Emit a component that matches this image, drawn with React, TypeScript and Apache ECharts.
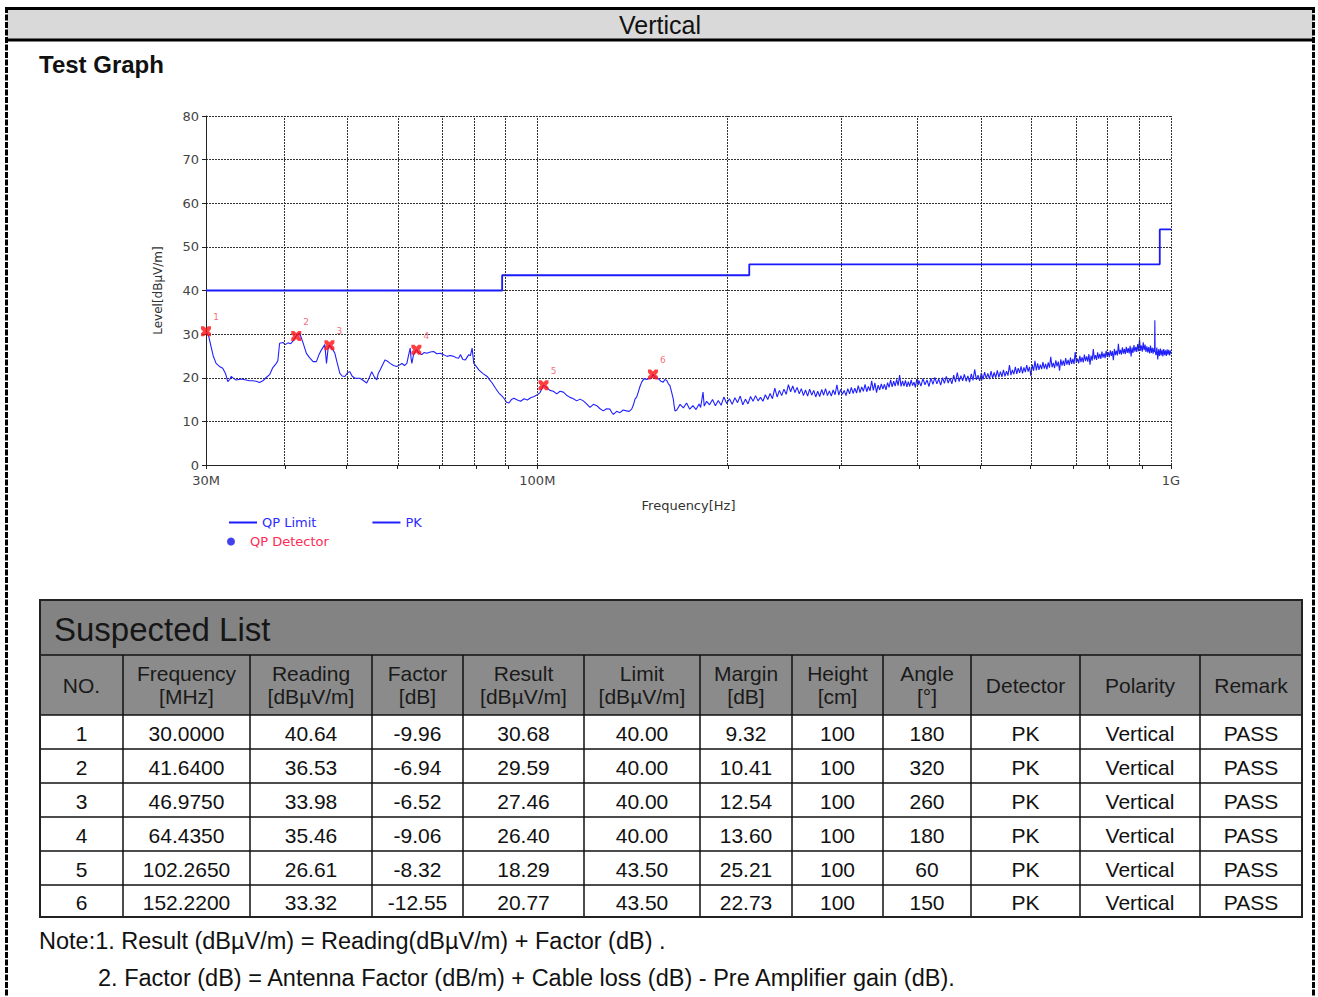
import { useEffect, useRef } from "react";
import * as echarts from "echarts";

const TABLE_FONT = '"Liberation Sans", Arial, Helvetica, sans-serif';
const CHART_FONT = '"DejaVu Sans", Verdana, sans-serif';

// QP limit (class B, 3 m): step edges in MHz and the level that holds up to the next edge
const limitFreqMHz = [30, 88, 216, 960, 1000];
const limitLevel = [40, 43.5, 46, 54, 54];

// Peak sweep, 30 – 100 MHz  [MHz, dBµV/m]
const pkBand1: [number, number][] = [
  [30.0, 30.6], [30.3, 29.5], [30.55, 27.2], [30.8, 25.0], [31.12, 23.3], [31.5, 22.6], [31.88, 22.2],
  [32.2, 21.0], [32.47, 19.1], [32.7, 19.6], [32.87, 20.3], [33.2, 19.8], [33.47, 19.5], [34.1, 19.7],
  [34.71, 19.5], [35.1, 19.3], [35.57, 19.3], [36.0, 19.2], [36.44, 18.9], [36.89, 19.3], [37.3, 20.0],
  [37.8, 20.7], [38.2, 22.2], [38.73, 23.3], [38.95, 23.9], [39.2, 27.9], [39.68, 28.1], [40.0, 27.6],
  [40.41, 28.0], [40.8, 27.8], [41.16, 28.4], [41.64, 29.6], [42.17, 30.2], [42.45, 29.0], [42.69, 28.0],
  [43.21, 25.6], [43.7, 24.6], [44.27, 23.7], [44.81, 23.7], [45.2, 25.2], [45.64, 26.4], [46.2, 27.6],
  [46.48, 23.3], [46.76, 26.8], [46.975, 27.5], [47.5, 26.6], [47.92, 25.6], [48.3, 23.5], [48.8, 21.0],
  [49.2, 20.4], [49.7, 20.3], [50.2, 21.2], [50.61, 21.4], [51.0, 20.4], [51.54, 19.9], [52.0, 19.9],
  [52.5, 19.9], [53.2, 19.3], [53.79, 18.8], [54.3, 20.0], [54.78, 21.4], [55.3, 20.2], [55.79, 19.5],
  [56.1, 21.0], [56.47, 21.8], [57.0, 23.0], [57.51, 24.1], [58.0, 23.8], [58.57, 23.3], [59.3, 22.8],
  [60.01, 22.6], [60.6, 22.9], [61.12, 23.3], [61.7, 22.8], [62.24, 23.3], [62.6, 25.0], [63.0, 26.8],
  [63.2, 24.5], [63.39, 23.3], [63.77, 25.3], [64.435, 26.4], [65.1, 25.6], [65.74, 25.3], [66.3, 25.8],
  [66.95, 25.6], [67.8, 25.9], [68.6, 26.0], [69.4, 25.5], [70.29, 25.6], [71.1, 25.3], [72.02, 24.9],
  [72.9, 25.1], [73.79, 24.9], [74.5, 24.6], [75.15, 24.5], [75.61, 25.3], [76.3, 24.2], [77.0, 24.1],
  [77.94, 25.3], [78.4, 25.0], [78.9, 26.8], [79.38, 23.3], [80.1, 22.6], [80.84, 21.8], [82.0, 21.0],
  [83.34, 20.3], [84.1, 19.5], [84.87, 18.8], [85.9, 17.6], [86.96, 16.5], [87.8, 15.9], [88.56, 15.3],
  [89.4, 14.4], [90.19, 14.2], [91.0, 15.0], [91.86, 15.3], [93.0, 14.9], [94.12, 14.6], [95.3, 15.2],
  [96.44, 14.9], [97.6, 15.4], [98.81, 15.7], [100.0, 16.1],
];

// Peak sweep, 100 – 165 MHz
const pkBand2: [number, number][] = [
  [101.0, 16.6], [101.6, 17.4], [102.265, 18.3], [103.4, 17.8], [104.7, 17.1], [106.0, 16.9], [107.3, 16.3],
  [108.6, 16.9], [109.9, 16.7], [111.2, 16.0], [112.6, 15.5], [114.0, 15.2], [115.4, 14.7], [116.8, 15.1],
  [118.2, 14.7], [119.6, 14.0], [121.1, 13.2], [122.6, 13.9], [124.1, 13.6], [125.6, 12.9], [127.1, 12.4],
  [128.6, 12.9], [130.2, 12.8], [131.0, 12.1], [131.8, 11.6], [133.4, 12.3], [135.0, 12.0], [136.6, 12.6],
  [138.3, 12.4], [139.6, 12.3], [140.9, 12.8], [141.8, 13.8], [142.6, 15.1], [143.5, 15.6], [144.3, 16.7],
  [145.2, 18.0], [146.1, 19.0], [147.4, 19.8], [148.8, 19.6], [150.1, 19.9], [151.5, 19.9], [152.22, 20.8],
  [153.6, 20.0], [155.2, 19.8], [156.6, 19.2], [158.0, 19.0], [159.0, 19.6], [160.0, 19.4], [161.0, 18.6],
  [161.9, 18.2], [162.9, 16.7], [163.9, 15.1], [164.4, 13.6], [164.9, 12.4],
];

// Peak sweep, 165 – 400 MHz
const pkBand3: [number, number][] = [
  [166, 12.6], [168, 13.9], [170, 13.1], [172, 14.2], [174, 12.8], [176, 13.6], [178, 12.7], [180, 14.0],
  [181, 13.2], [182.6, 16.7], [183.4, 13.5], [185, 14.6], [187, 13.8], [189, 15.0], [191, 13.6], [193, 14.8],
  [195, 13.7], [197, 15.6], [199, 14.1], [201, 15.2], [203, 13.9], [205, 15.4], [207, 14.3], [209, 15.8],
  [211, 13.8], [213, 15.1], [215, 14.0], [217, 15.7], [219, 14.6], [221, 15.9], [223, 14.7], [225, 15.5],
  [227, 14.6], [229, 16.1], [231, 15.0], [233, 16.4], [235, 15.2], [237, 17.6], [239, 15.6], [241, 17.1],
  [243, 15.9], [245, 17.4], [247, 16.2], [249, 18.4], [251, 16.8], [253, 18.1], [255, 16.6], [257, 17.8],
  [259, 16.3], [261, 17.5], [263, 15.9], [265, 17.2], [267, 15.8], [269, 17.4], [271, 16.0], [273, 17.1],
  [275, 15.6], [277, 16.9], [279, 15.7], [281, 17.3], [283, 16.0], [285, 17.5], [287, 15.9], [289, 17.0],
  [291, 15.8], [293, 17.2], [295, 16.1], [297, 18.4], [299, 16.0], [301, 17.3], [303, 16.2], [305, 17.1],
  [307, 15.9], [309, 17.5], [311, 16.3], [313, 17.8], [315, 16.4], [317, 17.6], [319, 16.5], [321, 18.2],
  [323, 16.6], [325, 17.9], [327, 16.9], [329, 18.5], [331, 16.8], [333, 18.0], [335, 17.0], [337, 19.3],
  [339, 17.1], [341, 18.8], [343, 16.6], [345, 18.3], [347, 17.2], [349, 18.6], [351, 17.4], [353, 18.5],
  [355, 17.2], [357, 18.9], [359, 17.8], [361, 19.5], [363, 17.9], [365, 19.2], [367, 18.1], [369, 19.6],
  [371, 18.2], [373, 20.6], [375, 18.0], [377, 19.3], [379, 18.1], [381, 19.4], [383, 17.9], [385, 19.1],
  [387, 18.0], [389, 19.5], [391, 18.2], [393, 19.0], [395, 17.8], [397, 19.7], [399, 18.3],
];

// Peak sweep, 400 MHz – 1 GHz
const pkBand4: [number, number][] = [
  [400, 19.4], [403, 18.1], [406, 19.8], [409, 18.4], [412, 19.5], [415, 18.0], [418, 19.9], [421, 18.5],
  [424, 20.1], [427, 18.6], [430, 19.7], [433, 18.3], [436, 20.0], [439, 18.7], [442, 20.3], [445, 18.8],
  [448, 19.9], [451, 18.6], [454, 20.6], [457, 19.0], [460, 21.2], [463, 19.1], [466, 20.5], [469, 19.3],
  [472, 20.8], [475, 19.2], [478, 20.4], [481, 19.0], [484, 20.9], [487, 19.4], [490, 21.9], [493, 19.5],
  [496, 20.6], [499, 19.3], [502, 21.1], [505, 19.6], [508, 21.3], [511, 19.8], [514, 21.0], [517, 19.7],
  [520, 21.5], [523, 19.9], [526, 21.2], [529, 20.0], [532, 21.7], [535, 20.1], [538, 21.4], [541, 20.2],
  [544, 21.8], [547, 20.3], [550, 21.5], [553, 20.5], [556, 22.9], [559, 20.6], [562, 21.8], [565, 20.8],
  [568, 22.5], [571, 20.9], [574, 22.2], [577, 21.1], [580, 22.6], [583, 21.0], [586, 22.4], [589, 21.3],
  [592, 22.9], [595, 21.4], [598, 22.5], [601, 20.4], [604, 23.0], [607, 21.6], [610, 23.9], [613, 21.7],
  [616, 23.3], [619, 21.8], [622, 23.0], [625, 22.0], [628, 23.6], [631, 22.1], [634, 23.2], [637, 21.9],
  [640, 23.5], [643, 22.3], [646, 24.8], [649, 22.4], [652, 23.4], [655, 22.2], [658, 24.0], [661, 22.6],
  [664, 23.7], [667, 21.6], [670, 24.2], [673, 22.8], [676, 23.9], [679, 22.7], [682, 24.5], [685, 23.0],
  [688, 24.1], [691, 22.9], [694, 24.6], [697, 23.2], [700, 24.3], [703, 23.1], [706, 25.9], [709, 23.4],
  [712, 24.4], [715, 23.3], [718, 25.0], [721, 23.6], [724, 24.7], [727, 23.5], [730, 25.3], [733, 23.8],
  [736, 24.9], [739, 23.7], [742, 25.4], [745, 23.0], [748, 25.1], [751, 23.9], [754, 26.6], [757, 24.2],
  [760, 25.2], [763, 24.1], [766, 25.8], [769, 24.4], [772, 25.5], [775, 24.3], [778, 26.0], [781, 24.6],
  [784, 25.6], [787, 24.5], [790, 26.2], [793, 24.8], [796, 25.9], [799, 24.7], [802, 26.3], [805, 25.0],
  [808, 26.1], [811, 24.0], [814, 26.6], [817, 25.2], [820, 26.2], [823, 25.1], [826, 27.8], [829, 25.4],
  [832, 26.4], [835, 25.3], [838, 27.0], [841, 25.5], [844, 26.6], [847, 25.4], [850, 27.1], [853, 25.7],
  [856, 26.8], [859, 25.6], [862, 27.3], [865, 24.9], [868, 26.9], [871, 25.7], [874, 27.5], [877, 26.0],
  [880, 27.1], [883, 25.9], [886, 27.7], [889, 26.1], [892, 28.8], [895, 26.2], [898, 27.4], [901, 26.0],
  [904, 28.1], [907, 26.3], [910, 27.6], [913, 25.9], [916, 27.2], [919, 25.8], [922, 27.0], [925, 25.6],
  [928, 27.4], [931, 25.7], [934, 26.9], [937, 25.5], [940, 26.8], [942, 25.9], [943, 33.2], [944, 26.0],
  [947, 25.2], [950, 26.9], [953, 24.2], [956, 26.5], [959, 25.0], [962, 26.7], [965, 25.1], [968, 26.4],
  [971, 24.9], [974, 26.6], [977, 25.2], [980, 26.3], [983, 25.0], [986, 26.5], [989, 25.3], [992, 26.4],
  [995, 25.1], [998, 26.2], [1000, 25.6],
];

// Suspected list
const suspectNo = [1, 2, 3, 4, 5, 6];
const suspectFreqMHz = [30.0, 41.64, 46.975, 64.435, 102.265, 152.22];
const suspectReading = [40.64, 36.53, 33.98, 35.46, 26.61, 33.32];
const suspectFactor = [-9.96, -6.94, -6.52, -9.06, -8.32, -12.55];
const suspectResult = [30.68, 29.59, 27.46, 26.4, 18.29, 20.77];
const suspectLimit = [40.0, 40.0, 40.0, 40.0, 43.5, 43.5];
const suspectMargin = [9.32, 10.41, 12.54, 13.6, 25.21, 22.73];
const suspectHeight = [100, 100, 100, 100, 100, 100];
const suspectAngle = [180, 320, 260, 180, 60, 150];
const suspectDetector = ["PK", "PK", "PK", "PK", "PK", "PK"];
const suspectPolarity = ["Vertical", "Vertical", "Vertical", "Vertical", "Vertical", "Vertical"];
const suspectRemark = ["PASS", "PASS", "PASS", "PASS", "PASS", "PASS"];

const tableHeaders = [
  ["NO."], ["Frequency", "[MHz]"], ["Reading", "[dBµV/m]"], ["Factor", "[dB]"], ["Result", "[dBµV/m]"],
  ["Limit", "[dBµV/m]"], ["Margin", "[dB]"], ["Height", "[cm]"], ["Angle", "[°]"], ["Detector"],
  ["Polarity"], ["Remark"],
];

// Frequency axis: grid lines and labelled frequencies (MHz)
const gridFreqMHz = [30, 40, 50, 60, 70, 80, 90, 100, 200, 300, 400, 500, 600, 700, 800, 900, 1000];
const labelFreqMHz = [30, 100, 1000];

const notes = [
  "Note:1. Result (dBµV/m) = Reading(dBµV/m) + Factor (dB) .",
  "2. Factor (dB) = Antenna Factor (dB/m) + Cable loss (dB) - Pre Amplifier gain (dB).",
];

const lg = (mhz: number) => Math.log10(mhz * 1e6);
const freqLabel = (hz: number) =>
  hz >= 1e9 - 1 ? `${Math.round(hz / 1e9)}G` : `${Math.round(hz / 1e6)}M`;

const X_MARK =
  "path://M0,0L3,0L5,2L7,0L10,0L10,3L8,5L10,7L10,10L7,10L5,8L3,10L0,10L0,7L2,5L0,3Z";

function txt(x: number, y: number, text: string, size: number, opts: any = {}) {
  const align = opts.align ?? "center";
  return {
    type: "text",
    x,
    y,
    silent: true,
    style: {
      text,
      fontSize: size,
      fontFamily: opts.family ?? TABLE_FONT,
      fontWeight: opts.weight ?? "normal",
      fill: opts.fill ?? "#111",
      textAlign: align,
      align,
      textVerticalAlign: "middle",
      verticalAlign: "middle",
    },
  };
}

function hline(x1: number, x2: number, y: number, w = 1.5, color = "#111", dash?: number[]) {
  return {
    type: "line",
    silent: true,
    shape: { x1, y1: y, x2, y2: y },
    style: { stroke: color, lineWidth: w, lineDash: dash },
  };
}

function vline(x: number, y1: number, y2: number, w = 1.5, color = "#111", dash?: number[]) {
  return {
    type: "line",
    silent: true,
    shape: { x1: x, y1, x2: x, y2 },
    style: { stroke: color, lineWidth: w, lineDash: dash },
  };
}

function buildPageGraphics() {
  const els: any[] = [];
  // page frame and title bar
  els.push({ type: "rect", silent: true, shape: { x: 7, y: 9, width: 1306, height: 31 }, style: { fill: "#d9d9d9" } });
  els.push(hline(6, 1314, 8.5, 3, "#000"));
  els.push(hline(6, 1314, 40, 3, "#000"));
  els.push(vline(6.5, 7, 997, 3, "#000", [6, 1.5]));
  els.push(vline(1313.5, 7, 997, 3, "#000", [6, 1.5]));
  els.push(txt(660, 25, "Vertical", 25, { fill: "#111" }));
  els.push(txt(39, 64, "Test Graph", 24, { align: "left", weight: "bold", fill: "#111" }));

  // suspected list table
  const colEdges = [40, 123, 250, 372, 463, 584, 700, 792, 883, 971, 1080, 1200, 1302];
  const rowEdges = [715, 749, 783, 817, 851, 885, 917];
  const left = colEdges[0];
  const right = colEdges[colEdges.length - 1];
  els.push({ type: "rect", silent: true, shape: { x: left, y: 600, width: right - left, height: 55 }, style: { fill: "#838383" } });
  els.push({ type: "rect", silent: true, shape: { x: left, y: 655, width: right - left, height: 60 }, style: { fill: "#8b8b8b" } });
  els.push(txt(54, 629, "Suspected List", 33, { align: "left", fill: "#161616" }));

  tableHeaders.forEach((lines, c) => {
    const cx = (colEdges[c] + colEdges[c + 1]) / 2;
    if (lines.length === 1) els.push(txt(cx, 685, lines[0], 21, { fill: "#1a1a1a" }));
    else {
      els.push(txt(cx, 673, lines[0], 21, { fill: "#1a1a1a" }));
      els.push(txt(cx, 696, lines[1], 21, { fill: "#1a1a1a" }));
    }
  });

  suspectNo.forEach((no, r) => {
    const cells = [
      String(no),
      suspectFreqMHz[r].toFixed(4),
      suspectReading[r].toFixed(2),
      suspectFactor[r].toFixed(2),
      suspectResult[r].toFixed(2),
      suspectLimit[r].toFixed(2),
      suspectMargin[r].toFixed(2),
      String(suspectHeight[r]),
      String(suspectAngle[r]),
      suspectDetector[r],
      suspectPolarity[r],
      suspectRemark[r],
    ];
    const cy = (rowEdges[r] + rowEdges[r + 1]) / 2;
    cells.forEach((s, c) => {
      els.push(txt((colEdges[c] + colEdges[c + 1]) / 2, cy + 1, s, 21));
    });
  });

  // grid lines of the table
  els.push(hline(left, right, 655, 1.5));
  rowEdges.slice(0, -1).forEach((y) => els.push(hline(left, right, y, 1.5)));
  colEdges.slice(1, -1).forEach((x) => els.push(vline(x, 655, 917, 1.5)));
  els.push({
    type: "rect",
    silent: true,
    shape: { x: left, y: 600, width: right - left, height: 317 },
    style: { fill: "none", stroke: "#222", lineWidth: 2 },
  });

  els.push(txt(39, 941, notes[0], 23.5, { align: "left" }));
  els.push(txt(98, 978, notes[1], 23.5, { align: "left" }));
  return els;
}

export default function App() {
  const ref = useRef<HTMLDivElement>(null);

  useEffect(() => {
    if (!ref.current) return;
    const chart = echarts.init(ref.current, undefined, { renderer: "svg" });

    const limitData = limitFreqMHz.map((f, i) => [lg(f), limitLevel[i]]);
    const pkData = [...pkBand1, ...pkBand2, ...pkBand3, ...pkBand4].map(([f, v]) => [lg(f), v]);
    const markerData = suspectFreqMHz.map((f, i) => ({
      name: String(suspectNo[i]),
      value: [lg(f), suspectResult[i]],
    }));

    chart.setOption({
      animation: false,
      backgroundColor: "#ffffff",
      textStyle: { fontFamily: CHART_FONT },
      grid: { left: 206, top: 116, width: 965, height: 349 },
      legend: [
        {
          left: 224,
          top: 511,
          icon: "rect",
          itemWidth: 28,
          itemHeight: 2,
          itemGap: 56,
          selectedMode: false,
          textStyle: { fontSize: 13, fontFamily: CHART_FONT },
          data: [
            { name: "QP Limit", textStyle: { color: "#2b2bff" } },
            { name: "PK", textStyle: { color: "#2b2bff" } },
          ],
        },
        {
          left: 222,
          top: 530,
          icon: "circle",
          itemWidth: 28,
          itemHeight: 8,
          selectedMode: false,
          textStyle: { fontSize: 13, fontFamily: CHART_FONT },
          data: [{ name: "QP Detector", textStyle: { color: "#ff2a55" } }],
        },
      ],
      xAxis: {
        type: "value",
        min: lg(30),
        max: lg(1000),
        name: "Frequency[Hz]",
        nameLocation: "middle",
        nameGap: 34,
        nameTextStyle: { fontSize: 13, color: "#333" },
        axisLine: { show: true, lineStyle: { color: "#222", width: 1 } },
        axisTick: { show: true, length: 4, customValues: gridFreqMHz.map(lg), lineStyle: { color: "#222" } },
        axisLabel: {
          customValues: labelFreqMHz.map(lg),
          formatter: (v: number) => freqLabel(Math.pow(10, v)),
          fontSize: 13,
          color: "#444",
          margin: 9,
        },
        splitLine: { show: false },
      },
      yAxis: {
        type: "value",
        min: 0,
        max: 80,
        interval: 10,
        name: "Level[dBµV/m]",
        nameLocation: "middle",
        nameGap: 42,
        nameRotate: 90,
        nameTextStyle: { fontSize: 12, color: "#333" },
        axisLine: { show: true, lineStyle: { color: "#222", width: 1 } },
        axisTick: { show: true, length: 4, lineStyle: { color: "#222" } },
        axisLabel: { fontSize: 13, color: "#444", margin: 7 },
        splitLine: { show: true, lineStyle: { color: "#333", width: 1, type: [2, 1] } },
      },
      series: [
        {
          name: "QP Limit",
          type: "line",
          step: "end",
          data: limitData,
          symbol: "none",
          z: 2,
          color: "#1a1aff",
          lineStyle: { color: "#1a1aff", width: 1.8 },
          markLine: {
            silent: true,
            symbol: ["none", "none"],
            label: { show: false },
            lineStyle: { color: "#333", width: 1, type: [2, 1] },
            emphasis: { disabled: true },
            data: gridFreqMHz.slice(1).map((f) => ({ xAxis: lg(f) })),
          },
        },
        {
          name: "PK",
          type: "line",
          data: pkData,
          symbol: "none",
          z: 3,
          color: "#2020ff",
          lineStyle: { color: "#2020ff", width: 1.1 },
        },
        {
          name: "QP Detector",
          type: "scatter",
          data: [],
          symbol: "circle",
          color: "#1212e8",
        },
        {
          name: "Suspected",
          type: "scatter",
          data: markerData,
          symbol: X_MARK,
          symbolSize: 10,
          z: 4,
          itemStyle: { color: "#ff1010" },
          label: {
            show: true,
            formatter: "{b}",
            position: "inside",
            offset: [10, -14],
            fontSize: 9,
            color: "#ee4a5a",
          },
        },
      ],
      graphic: { elements: buildPageGraphics() },
    });

    return () => chart.dispose();
  }, []);

  return (
    <div
      ref={ref}
      style={{ position: "absolute", left: 0, top: 0, width: 1318, height: 997, background: "#fff" }}
    />
  );
}
